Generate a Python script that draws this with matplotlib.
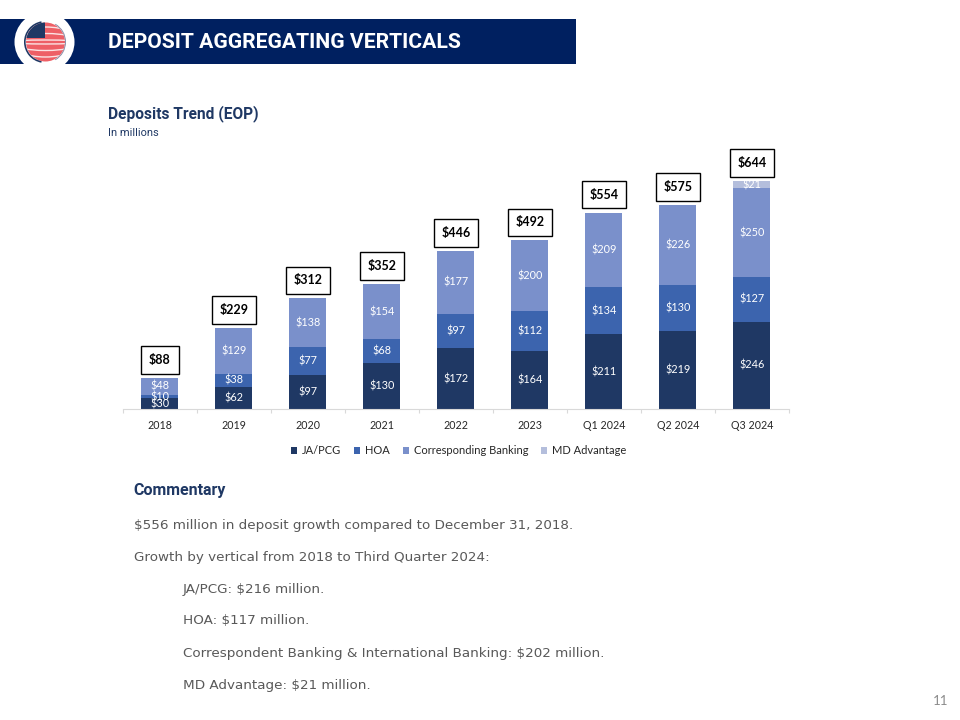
import numpy as np
import matplotlib
matplotlib.use("Agg")
import matplotlib.pyplot as plt
from matplotlib.patches import Rectangle, Circle, Ellipse, Wedge

# Deposits by vertical, in millions
periods = ["2018", "2019", "2020", "2021", "2022", "2023", "Q1 2024", "Q2 2024", "Q3 2024"]
ja_pcg = [30, 62, 97, 130, 172, 164, 211, 219, 246]
hoa = [10, 38, 77, 68, 97, 112, 134, 130, 127]
corresponding = [48, 129, 138, 154, 177, 200, 209, 226, 250]
md_advantage = [0, 0, 0, 0, 0, 0, 0, 0, 21]
totals = [88, 229, 312, 352, 446, 492, 554, 575, 644]

series_names = ["JA/PCG", "HOA", "Corresponding Banking", "MD Advantage"]
series_colors = ["#1F3864", "#3C64AE", "#7A90CB", "#B4BEDC"]

commentary = [
    ("$556 million in deposit growth compared to December 31, 2018.", 0),
    ("Growth by vertical from 2018 to Third Quarter 2024:", 0),
    ("JA/PCG: $216 million.", 1),
    ("HOA: $117 million.", 1),
    ("Correspondent Banking & International Banking: $202 million.", 1),
    ("MD Advantage: $21 million.", 1),
]

NAVY = "#002060"
HEAD = "#1F3864"
W, H = 960, 720

fig = plt.figure(figsize=(9.6, 7.2), dpi=100)

# page layer in pixel coordinates
page = fig.add_axes([0, 0, 1, 1])
page.set_xlim(0, W)
page.set_ylim(H, 0)
page.axis("off")

banner = Rectangle((0, 19), 576, 45, color=NAVY, lw=0)
page.add_patch(banner)

# logo
logo_bg = Circle((44.5, 42), 30, color="white", lw=0, zorder=2)
page.add_patch(logo_bg)
logo_bg.set_clip_path(banner)
globe = Circle((45.5, 42), 19.5, color="#EE5F66", lw=0, zorder=3)
page.add_patch(globe)
for hh in [4, 17, 30, 43]:
    for cy in [42]:
        lat = Ellipse((45.5, cy), 70, hh, fc="none", ec="#FBE3E4", lw=1, zorder=4)
        page.add_patch(lat)
        lat.set_clip_path(Circle((45.5, 42), 19.5, transform=page.transData))
canton = Rectangle((26, 22), 19, 16, color=HEAD, lw=0, zorder=5)
page.add_patch(canton)
canton.set_clip_path(Circle((45.5, 42), 19.5, transform=page.transData))
page.add_patch(Wedge((45, 42), 21, 100, 260, width=1.6, color=HEAD, lw=0, zorder=6))
page.add_patch(Wedge((45, 42), 21, -60, 60, width=1, color="#8A8FA8", lw=0, zorder=6))

narrow = ["Liberation Sans Narrow", "Roboto", "DejaVu Sans"]
page.text(108, 43, "DEPOSIT AGGREGATING VERTICALS", color="white", family=narrow,
          fontsize=15.2, fontweight="bold", va="center", ha="left", zorder=5)
page.text(108, 114, "Deposits Trend (EOP)", color=HEAD, family=narrow,
          fontsize=11.2, fontweight="bold", va="center", ha="left")
page.text(108, 133, "In millions", color=HEAD, family=narrow,
          fontsize=7.9, va="center", ha="left")
page.text(133, 491, "Commentary", color=HEAD, family=narrow,
          fontsize=11.5, fontweight="bold", va="center", ha="left")

for i, (line, indent) in enumerate(commentary):
    page.text(183 if indent else 134, 525 + i * 32, line, color="#595959",
              family="DejaVu Sans", fontsize=9.7, va="center", ha="left")

page.text(941, 701, "11", color="#8C8C8C", family="Lato", fontsize=9.5,
          va="center", ha="center")

# chart
ax = fig.add_axes([123 / W, 1 - 409 / H, 666 / W, 248 / H])
ax.patch.set_alpha(0)
x = np.arange(len(periods))
bottom = np.zeros(len(periods))
columns = [ja_pcg, hoa, corresponding, md_advantage]
for values, name, color in zip(columns, series_names, series_colors):
    bars = ax.bar(x, values, 0.5, bottom=bottom, color=color, label=name)
    for xi, b, v in zip(x, bottom, values):
        if v > 0:
            ax.text(xi, b + v / 2, f"${v}", ha="center", va="center",
                    color="white", family="Lato", fontsize=7.8)
    bottom = bottom + np.array(values)

for xi, total, top in zip(x, totals, bottom):
    ax.annotate(f"${total}", (xi, top), xytext=(0, 13), textcoords="offset points",
                ha="center", va="center", family="Lato", fontsize=9, fontweight="bold",
                color="black", annotation_clip=False,
                bbox=dict(boxstyle="square,pad=0.62", fc="white", ec="black", lw=1))

ax.set_xlim(-0.5, 8.5)
ax.set_ylim(0, 700)
ax.set_yticks([])
for side in ["top", "left", "right"]:
    ax.spines[side].set_visible(False)
ax.spines["bottom"].set_color("#D9D9D9")
ax.set_xticks(x)
ax.set_xticklabels(periods, family="Lato", fontsize=7.7, color="#262626")
ax.tick_params(axis="x", which="major", length=0, pad=7.8)
ax.set_xticks(np.arange(-0.5, 9), minor=True)
ax.tick_params(axis="x", which="minor", length=3, color="#D9D9D9", width=0.8)

ax.legend(loc="center", bbox_to_anchor=(0.504, -0.168), ncol=4, frameon=False,
          prop={"family": "Lato", "size": 8}, labelcolor="#262626",
          handlelength=0.55, handleheight=0.6, handletextpad=0.4, columnspacing=1.2)

fig.savefig("out.png", dpi=100)
